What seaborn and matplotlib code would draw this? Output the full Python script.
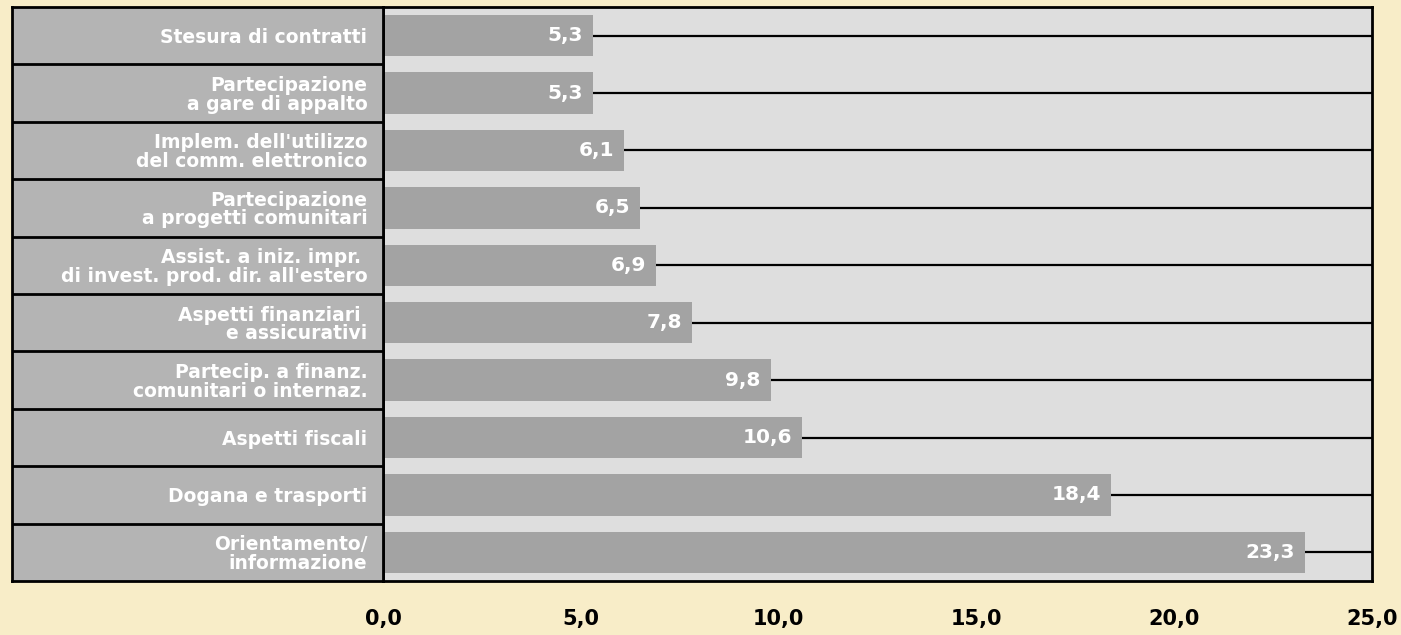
import matplotlib
matplotlib.use("Agg")
import matplotlib.pyplot as plt
import seaborn as sns
import pandas as pd

categories = [
    "Stesura di contratti",
    "Partecipazione\na gare di appalto",
    "Implem. dell'utilizzo\ndel comm. elettronico",
    "Partecipazione\na progetti comunitari",
    "Assist. a iniz. impr. \ndi invest. prod. dir. all'estero",
    "Aspetti finanziari \ne assicurativi",
    "Partecip. a finanz.\ncomunitari o internaz.",
    "Aspetti fiscali",
    "Dogana e trasporti",
    "Orientamento/\ninformazione",
]
values = [5.3, 5.3, 6.1, 6.5, 6.9, 7.8, 9.8, 10.6, 18.4, 23.3]
x_ticks = [0, 5, 10, 15, 20, 25]

BG = "#F8EDC8"
PANEL = "#B4B4B4"
PLOT_BG = "#DEDEDE"
BAR = "#A3A3A3"
FONT = ["DejaVu Sans"]

sns.set_style("white")
plt.rcParams["font.family"] = FONT
plt.rcParams["font.weight"] = "bold"

W, H = 1401, 635
fig = plt.figure(figsize=(W / 100, H / 100), dpi=100, facecolor=BG)

left, right, top, bottom = 12, 1372, 7, 581
split = 383

ax = fig.add_axes([split / W, (H - bottom) / H, (right - split) / W, (bottom - top) / H])
axl = fig.add_axes([left / W, (H - bottom) / H, (split - left) / W, (bottom - top) / H])

df = pd.DataFrame({"cat": categories, "val": values})
sns.barplot(data=df, x="val", y="cat", orient="h", color=BAR, saturation=1,
            width=0.72, ax=ax, edgecolor="none")
ax.set_facecolor(PLOT_BG)
ax.set_xlim(0, 25)
ax.set_ylim(len(values) - 0.5, -0.5)
ax.set_xlabel("")
ax.set_ylabel("")
ax.set_yticks([])
ax.set_xticks(x_ticks)
ax.set_xticklabels([f"{t:.1f}".replace(".", ",") for t in x_ticks],
                   fontsize=15, fontweight="bold", color="black")
ax.tick_params(axis="x", length=0, pad=20)
for s in ax.spines.values():
    s.set_color("black")
    s.set_linewidth(2)

for i, v in enumerate(values):
    ax.hlines(i, v, 25, color="black", lw=1.6)
    ax.text(v - 0.25, i, f"{v:.1f}".replace(".", ","), ha="right", va="center",
            color="white", fontsize=14.5, fontweight="bold")

# left label panel
axl.set_facecolor(PANEL)
axl.set_xlim(0, 1)
axl.set_ylim(len(values) - 0.5, -0.5)
axl.set_xticks([])
axl.set_yticks([])
for s in axl.spines.values():
    s.set_color("black")
    s.set_linewidth(2)
for i in range(len(values) - 1):
    axl.axhline(i + 0.5, color="black", lw=2)
for i, c in enumerate(categories):
    axl.text(0.958, i + 0.03, c, ha="right", va="center", color="white",
             fontsize=13.5, fontweight="bold", linespacing=0.98)

fig.savefig("out.png", dpi=100, facecolor=BG)
